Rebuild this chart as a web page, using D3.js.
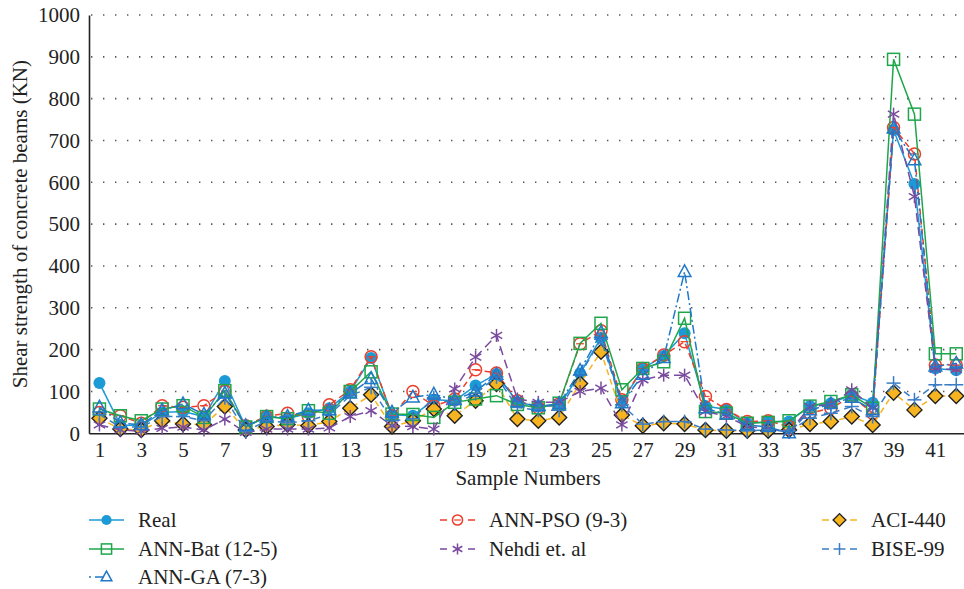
<!DOCTYPE html>
<html>
<head>
<meta charset="utf-8">
<script src="https://cdn.jsdelivr.net/npm/d3@7/dist/d3.min.js"></script>
<style>
  html, body { margin: 0; padding: 0; background: #fff; }
  svg { display: block; }
  svg text { font-family: "Liberation Serif", "Tinos", serif; }
</style>
</head>
<body>
<svg id="chart" width="964" height="589"></svg>
<script>
// Sample numbers 1..42
const samples = d3.range(1, 43);

// Shear strength (KN) per sample for each method
const real   = [120,20,18,50,52,40,125,15,40,35,48,60,100,180,44,42,80,78,114,142,74,64,66,143,228,75,155,185,239,65,57,24,28,28,65,72,92,73,725,596,155,151];
const annBat = [58,42,30,58,66,38,102,15,40,35,54,48,100,147,46,45,38,74,82,90,69,61,72,215,263,104,155,171,275,52,48,24,26,30,65,76,92,60,894,763,190,190];
const annGA  = [62,25,20,55,70,45,95,18,38,40,55,55,95,130,50,86,93,80,100,140,75,65,70,150,240,72,140,180,386,60,45,20,15,0,55,70,85,55,729,653,160,167];
const annPSO = [50,42,24,66,62,66,101,18,41,48,40,68,104,183,42,100,65,82,152,144,78,61,70,214,245,80,155,187,219,88,57,28,30,16,48,60,88,48,731,668,163,163];
const nehdi  = [20,8,5,12,15,8,34,2,10,10,10,13,40,54,18,16,10,106,182,234,82,74,74,100,108,20,128,139,139,52,41,16,12,2,64,68,104,60,763,566,153,153];
const aci440 = [36,10,8,30,22,21,64,8,16,21,18,28,60,92,16,30,58,42,78,118,34,30,38,119,195,44,18,24,22,8,6,6,6,8,22,28,40,20,97,56,89,89];
const bise99 = [45,15,15,40,40,30,85,5,30,25,30,45,90,110,30,35,85,70,95,135,62,55,55,140,225,68,22,28,28,10,8,6,8,5,36,48,64,40,120,80,116,116];

const yTicks = d3.range(0, 1001, 100);
const xTicks = d3.range(1, 42, 2);

const seriesNames = ["Real", "ANN-Bat (12-5)", "ANN-GA (7-3)", "ANN-PSO (9-3)", "Nehdi et. al", "ACI-440", "BISE-99"];

const series = [
  { name: seriesNames[0], values: real,   color: "#1b9ad6", dash: null,        marker: "dot" },
  { name: seriesNames[3], values: annPSO, color: "#ee3d2a", dash: "6,4",       marker: "circle" },
  { name: seriesNames[5], values: aci440, color: "#f6b420", dash: "6,4",       marker: "diamond" },
  { name: seriesNames[1], values: annBat, color: "#1ea64b", dash: null,        marker: "square" },
  { name: seriesNames[4], values: nehdi,  color: "#7a4a9e", dash: "9,5",       marker: "asterisk" },
  { name: seriesNames[6], values: bise99, color: "#3a7dc4", dash: "7,5",       marker: "plus" },
  { name: seriesNames[2], values: annGA,  color: "#1f78c8", dash: "9,3,2,3",   marker: "triangle" }
];

const FONT = '"Liberation Serif", "Tinos", serif';
const svg = d3.select("#chart");
const plotLeft = 89, plotBottom = 433.3, plotTop = 15, plotRight = 966.7;

const x = d3.scaleLinear().domain([0.5, 42.5]).range([plotLeft, plotRight]);
const y = d3.scaleLinear().domain([0, 1000]).range([plotBottom, plotTop]);

// dotted horizontal gridlines
svg.append("g").selectAll("line")
  .data(yTicks.filter(d => d > 0))
  .join("line")
  .attr("x1", plotLeft + 2).attr("x2", 964)
  .attr("y1", d => y(d)).attr("y2", d => y(d))
  .attr("stroke", "#555")
  .attr("stroke-width", 1.6)
  .attr("stroke-dasharray", "1.4,10.6");

// y axis (labels and axis line, no tick marks)
const yAxis = svg.append("g")
  .attr("transform", `translate(${plotLeft},0)`)
  .call(d3.axisLeft(y).tickValues(yTicks).tickSize(0).tickPadding(9).tickFormat(d3.format("d")));
yAxis.attr("font-family", null);
yAxis.select(".domain").attr("stroke", "#222").attr("stroke-width", 1.6);
yAxis.selectAll("text").style("font-family", FONT).style("font-size", "21px").attr("fill", "#222");

// x axis
const xAxis = svg.append("g")
  .attr("transform", `translate(0,${plotBottom})`)
  .call(d3.axisBottom(x).tickValues(xTicks).tickSize(0).tickPadding(9).tickFormat(d3.format("d")));
xAxis.attr("font-family", null);
xAxis.select(".domain").attr("stroke", "#222").attr("stroke-width", 1.6);
xAxis.selectAll("text").style("font-family", FONT).style("font-size", "21px").attr("fill", "#222");

// axis titles
svg.append("text")
  .attr("x", 528).attr("y", 485)
  .attr("text-anchor", "middle")
  .style("font-family", FONT).style("font-size", "21px").attr("fill", "#222")
  .text("Sample Numbers");

svg.append("text")
  .attr("transform", `translate(27,${(plotTop + plotBottom) / 2}) rotate(-90)`)
  .attr("text-anchor", "middle")
  .style("font-family", FONT).style("font-size", "21px").attr("fill", "#222")
  .text("Shear strength of concrete beams (KN)");

// marker drawing
function drawMarker(g, type, color, cx, cy, scale = 1) {
  const s = scale;
  switch (type) {
    case "dot":
      g.append("circle").attr("cx", cx).attr("cy", cy).attr("r", 6 * s).attr("fill", color);
      break;
    case "circle":
      g.append("circle").attr("cx", cx).attr("cy", cy).attr("r", 6 * s)
        .attr("fill", "none").attr("stroke", color).attr("stroke-width", 1.5);
      g.append("line").attr("x1", cx - 4 * s).attr("x2", cx + 4 * s).attr("y1", cy).attr("y2", cy)
        .attr("stroke", color).attr("stroke-width", 1.2);
      break;
    case "square":
      g.append("rect").attr("x", cx - 6 * s).attr("y", cy - 6 * s).attr("width", 12 * s).attr("height", 12 * s)
        .attr("fill", "none").attr("stroke", color).attr("stroke-width", 1.5);
      break;
    case "triangle": {
      const r = 7 * s;
      g.append("path")
        .attr("d", `M${cx},${cy - r}L${cx + r * 0.9},${cy + r * 0.65}L${cx - r * 0.9},${cy + r * 0.65}Z`)
        .attr("fill", "none").attr("stroke", color).attr("stroke-width", 1.5);
      break;
    }
    case "diamond": {
      const r = 7.5 * s;
      g.append("path")
        .attr("d", `M${cx},${cy - r}L${cx + r},${cy}L${cx},${cy + r}L${cx - r},${cy}Z`)
        .attr("fill", color).attr("stroke", "#222").attr("stroke-width", 1.4);
      break;
    }
    case "asterisk": {
      const r = 6.5 * s;
      const p = [[0, -r, 0, r], [-r * 0.87, -r * 0.5, r * 0.87, r * 0.5], [-r * 0.87, r * 0.5, r * 0.87, -r * 0.5]];
      p.forEach(([x1, y1, x2, y2]) => g.append("line")
        .attr("x1", cx + x1).attr("y1", cy + y1).attr("x2", cx + x2).attr("y2", cy + y2)
        .attr("stroke", color).attr("stroke-width", 1.5));
      break;
    }
    case "plus": {
      const r = 7 * s;
      g.append("line").attr("x1", cx - r).attr("x2", cx + r).attr("y1", cy).attr("y2", cy)
        .attr("stroke", color).attr("stroke-width", 1.5);
      g.append("line").attr("x1", cx).attr("x2", cx).attr("y1", cy - r).attr("y2", cy + r)
        .attr("stroke", color).attr("stroke-width", 1.5);
      break;
    }
  }
}

const line = d3.line().x((d, i) => x(samples[i])).y(d => y(d));

const plot = svg.append("g");
series.forEach(s => {
  const g = plot.append("g");
  g.append("path")
    .attr("d", line(s.values))
    .attr("fill", "none")
    .attr("stroke", s.color)
    .attr("stroke-width", 1.5)
    .attr("stroke-dasharray", s.dash);
  s.values.forEach((v, i) => drawMarker(g, s.marker, s.color, x(samples[i]), y(v)));
});

// legend
const byName = Object.fromEntries(series.map(s => [s.name, s]));
const legendItems = [
  { name: "Real",           lx: 89,  ty: 520 },
  { name: "ANN-Bat (12-5)", lx: 89,  ty: 549 },
  { name: "ANN-GA (7-3)",   lx: 89,  ty: 577 },
  { name: "ANN-PSO (9-3)",  lx: 440, ty: 520 },
  { name: "Nehdi et. al",   lx: 440, ty: 549 },
  { name: "ACI-440",        lx: 822, ty: 520 },
  { name: "BISE-99",        lx: 822, ty: 549 }
];
const legend = svg.append("g");
legendItems.forEach(it => {
  const s = byName[it.name];
  const g = legend.append("g");
  const w = 35;
  g.append("line")
    .attr("x1", it.lx).attr("x2", it.lx + w).attr("y1", it.ty).attr("y2", it.ty)
    .attr("stroke", s.color).attr("stroke-width", 1.5)
    .attr("stroke-dasharray", s.dash ? (s.marker === "triangle" ? "2,4,9,20,9" : "7,21,7") : null);
  drawMarker(g, s.marker, s.color, it.lx + w / 2, it.ty, 0.85);
  g.append("text")
    .attr("x", it.lx + 49).attr("y", it.ty + 7)
    .style("font-family", FONT).style("font-size", "21px").attr("fill", "#222")
    .text(s.name);
});
</script>
</body>
</html>
